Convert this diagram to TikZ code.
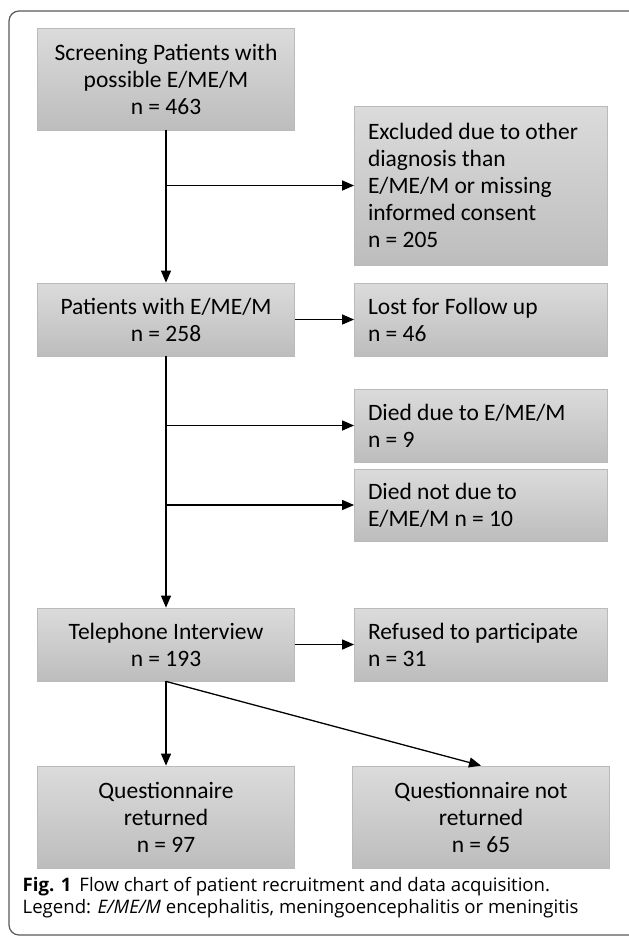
\documentclass[tikz,border=0pt]{standalone}
\usepackage{fontspec}
\setmainfont{Carlito}
\newfontfamily\capfont{Open Sans}
\usetikzlibrary{arrows.meta}

\begin{document}
\begin{tikzpicture}[x=1pt,y=-1pt,>={Triangle[length=12pt,width=10pt]},line width=1.3pt,
    box/.style={draw=black!27,line width=0.8pt,top color=black!14,bottom color=black!26,inner sep=0pt,font=\fontsize{23.5}{27}\selectfont},
    cbox/.style={box,minimum width=257pt,align=center},
    lbox/.style={box,minimum width=253pt,text width=226pt,align=flush left}]
    \useasboundingbox (0,0) rectangle (629,938);
    % frame
    \draw[rounded corners=10pt,draw=black!65,line width=1.2pt] (9,11) rectangle (645,935);
    % boxes
    \node[cbox,minimum height=102pt] (screen) at (166,79) {Screening Patients with\\possible E/ME/M\\n = 463};
    \node[lbox,minimum height=159pt] (excl) at (481,185.5) {Excluded due to other\\diagnosis than\\E/ME/M or missing\\informed consent\\n = 205};
    \node[cbox,minimum height=73pt] (pat) at (166,319.5) {Patients with E/ME/M\\n = 258};
    \node[lbox,minimum height=73pt] (lost) at (481,319.5) {Lost for Follow up\\n = 46};
    \node[lbox,minimum height=73pt] (died) at (481,425.5) {Died due to E/ME/M\\n = 9};
    \node[lbox,minimum height=72pt] (dnot) at (481,505) {Died not due to\\E/ME/M n = 10};
    \node[cbox,minimum height=73pt] (tel) at (166,644.5) {Telephone Interview\\n = 193};
    \node[lbox,minimum height=73pt] (ref) at (481,644.5) {Refused to participate\\n = 31};
    \node[cbox,minimum height=102pt] (qret) at (166,817) {Questionnaire\\returned\\n = 97};
    \node[cbox,minimum height=102pt] (qnot) at (481,817) {Questionnaire not\\returned\\n = 65};
    % arrows
    \draw[->] (screen) -- (pat);
    \draw[->] (screen.south |- excl.west) -- (excl.west);
    \draw[->] (pat) -- (lost);
    \draw[->] (pat) -- (tel);
    \draw[->] (pat.south |- died.west) -- (died.west);
    \draw[->] (pat.south |- dnot.west) -- (dnot.west);
    \draw[->] (tel) -- (ref);
    \draw[->] (tel) -- (qret);
    \draw[->] (tel.south) -- (qnot.north);
    % caption
    \node[anchor=north west,inner sep=0pt,align=left,font=\capfont\fontsize{18.6}{22}\selectfont] (cap) at (22,877)
        {\textbf{Fig. 1}\hspace{8pt}Flow chart of patient recruitment and data acquisition.\\
         Legend: \textit{E/ME/M} encephalitis, meningoencephalitis or meningitis};
\end{tikzpicture}
\end{document}
